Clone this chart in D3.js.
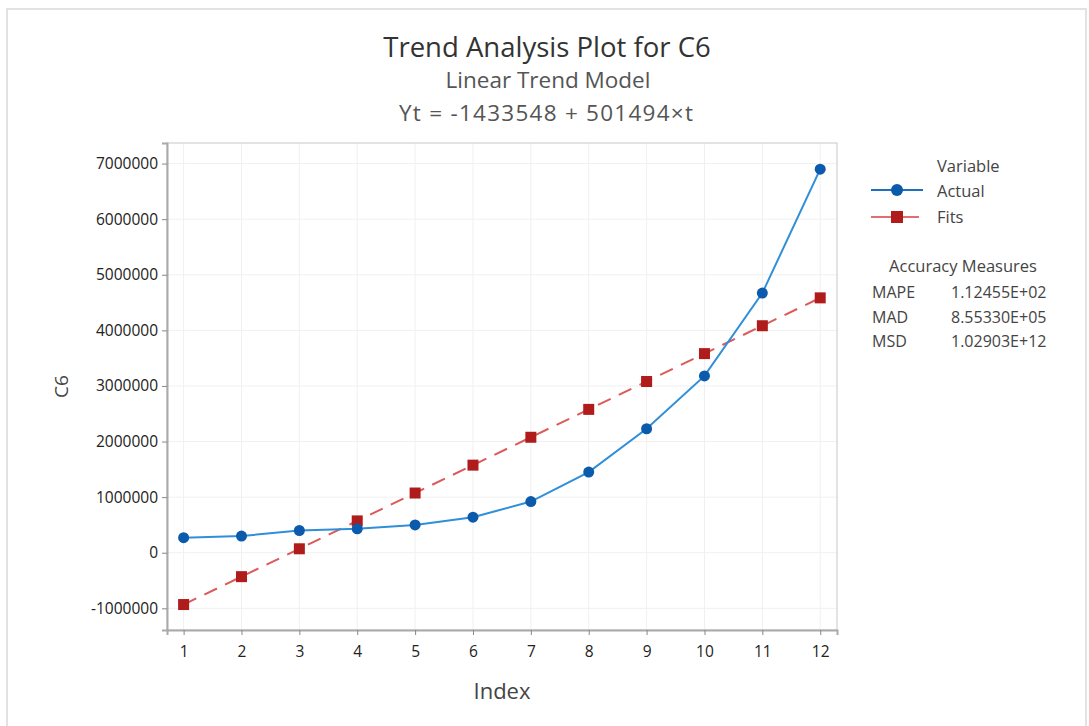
<!DOCTYPE html>
<html>
<head>
<meta charset="utf-8">
<script src="https://cdn.jsdelivr.net/npm/d3@7"></script>
<style>
  body { margin: 0; background: #fff; }
  text { font-family: "Open Sans", "Noto Sans", sans-serif; }
</style>
</head>
<body>
<div id="chart"></div>
<script>
// data
var index = [1, 2, 3, 4, 5, 6, 7, 8, 9, 10, 11, 12];
var actual = [270000, 300000, 400000, 430000, 500000, 640000, 920000, 1450000, 2230000, 3180000, 4670000, 6900000];
var fits = [-932054, -430560, 70934, 572428, 1073922, 1575416, 2076910, 2578404, 3079898, 3581392, 4082886, 4584380];
var yTicks = [-1000000, 0, 1000000, 2000000, 3000000, 4000000, 5000000, 6000000, 7000000];
var measures = [["MAPE", "1.12455E+02"], ["MAD", "8.55330E+05"], ["MSD", "1.02903E+12"]];

var W = 1089, H = 726;
var plot = {left: 167, top: 143, right: 837, bottom: 630};

var svg = d3.select("#chart").append("svg")
    .attr("width", W)
    .attr("height", H);

// outer frame of the graph window
svg.append("rect")
    .attr("x", 7).attr("y", 9)
    .attr("width", 1079).attr("height", 730)
    .attr("fill", "none")
    .attr("stroke", "#e2e2e2")
    .attr("stroke-width", 2);

//scales
var x = d3.scaleLinear()
    .domain([0.713, 12.29])
    .range([plot.left, plot.right]);

var y = d3.scaleLinear()
    .domain([-1390000, 7370000])
    .range([plot.bottom, plot.top]);

//grid
svg.append("g").selectAll("line")
    .data(index).enter().append("line")
    .attr("x1", (d) => x(d)).attr("x2", (d) => x(d))
    .attr("y1", plot.top).attr("y2", plot.bottom)
    .attr("stroke", "#f0f0f0");

svg.append("g").selectAll("line")
    .data(yTicks).enter().append("line")
    .attr("x1", plot.left).attr("x2", plot.right)
    .attr("y1", (d) => y(d)).attr("y2", (d) => y(d))
    .attr("stroke", "#f0f0f0");

//plot frame
svg.append("rect")
    .attr("x", plot.left).attr("y", plot.top)
    .attr("width", plot.right - plot.left)
    .attr("height", plot.bottom - plot.top)
    .attr("fill", "none")
    .attr("stroke", "#c8c8c8");

//axes (plain hyphen for negatives, like the original)
var plainInt = (d) => String(d);

var yAxis = svg.append("g")
    .attr("transform", "translate(" + plot.left + ",0)")
    .call(d3.axisLeft(y).tickValues(yTicks).tickFormat(plainInt).tickSize(5).tickPadding(4));

var xAxis = svg.append("g")
    .attr("transform", "translate(0," + plot.bottom + ")")
    .call(d3.axisBottom(x).tickValues(index).tickFormat(plainInt).tickSize(5).tickPadding(11));

[yAxis, xAxis].forEach((a) => {
    a.select(".domain").attr("stroke", "#aaa").attr("stroke-width", 2);
    a.selectAll(".tick line").attr("stroke", "#888");
    a.selectAll(".tick text")
        .style("font-family", "'Open Sans', 'Noto Sans', sans-serif")
        .style("font-size", "15.5px")
        .attr("fill", "#222");
});

//lines
var fitLine = d3.line().x((d, i) => x(index[i])).y((d) => y(d));

svg.append("path")
    .datum(fits)
    .attr("d", fitLine)
    .attr("fill", "none")
    .attr("stroke", "#db5a5a")
    .attr("stroke-width", 2)
    .attr("stroke-dasharray", "14,9");

svg.append("path")
    .datum(actual)
    .attr("d", fitLine)
    .attr("fill", "none")
    .attr("stroke", "#2f8fd8")
    .attr("stroke-width", 2);

//markers
svg.append("g").selectAll("rect")
    .data(fits).enter().append("rect")
    .attr("x", (d, i) => x(index[i]) - 5.5)
    .attr("y", (d) => y(d) - 5.5)
    .attr("width", 11).attr("height", 11)
    .attr("fill", "#b01c1c");

svg.append("g").selectAll("circle")
    .data(actual).enter().append("circle")
    .attr("cx", (d, i) => x(index[i]))
    .attr("cy", (d) => y(d))
    .attr("r", 5.5)
    .attr("fill", "#0b5aab");

//titles
svg.append("text")
    .attr("x", 547).attr("y", 57)
    .attr("text-anchor", "middle")
    .style("font-size", "27.5px")
    .attr("fill", "#333")
    .text("Trend Analysis Plot for C6");

svg.append("text")
    .attr("x", 548).attr("y", 88)
    .attr("text-anchor", "middle")
    .style("font-size", "22.5px")
    .attr("fill", "#555")
    .text("Linear Trend Model");

svg.append("text")
    .attr("x", 546).attr("y", 121)
    .attr("text-anchor", "middle")
    .attr("textLength", 294)
    .attr("lengthAdjust", "spacing")
    .style("font-size", "22.5px")
    .attr("fill", "#555")
    .text("Yt = -1433548 + 501494×t");

//axis titles
svg.append("text")
    .attr("transform", "translate(68," + ((plot.top + plot.bottom) / 2) + ") rotate(-90)")
    .attr("text-anchor", "middle")
    .style("font-size", "19px")
    .attr("fill", "#444")
    .text("C6");

svg.append("text")
    .attr("x", 502).attr("y", 699)
    .attr("text-anchor", "middle")
    .style("font-size", "22px")
    .attr("fill", "#444")
    .text("Index");

//legend
var legend = svg.append("g");
legend.append("text")
    .attr("x", 937).attr("y", 172)
    .style("font-size", "16.5px")
    .attr("fill", "#444")
    .text("Variable");

legend.append("line")
    .attr("x1", 871).attr("x2", 923).attr("y1", 190).attr("y2", 190)
    .attr("stroke", "#1f6fc0").attr("stroke-width", 2);
legend.append("circle")
    .attr("cx", 897).attr("cy", 190).attr("r", 6)
    .attr("fill", "#0b5aab");
legend.append("text")
    .attr("x", 937).attr("y", 197)
    .style("font-size", "16.5px")
    .attr("fill", "#444")
    .text("Actual");

legend.append("line")
    .attr("x1", 871).attr("x2", 919).attr("y1", 217).attr("y2", 217)
    .attr("stroke", "#e07070").attr("stroke-width", 2);
legend.append("rect")
    .attr("x", 891).attr("y", 211).attr("width", 12).attr("height", 12)
    .attr("fill", "#b01c1c");
legend.append("text")
    .attr("x", 937).attr("y", 223)
    .style("font-size", "16.5px")
    .attr("fill", "#444")
    .text("Fits");

//accuracy measures
legend.append("text")
    .attr("x", 963).attr("y", 272)
    .attr("text-anchor", "middle")
    .style("font-size", "16.5px")
    .attr("fill", "#444")
    .text("Accuracy Measures");

legend.selectAll(".mname")
    .data(measures).enter().append("text")
    .attr("class", "mname")
    .attr("x", 872).attr("y", (d, i) => 298 + i * 24.5)
    .style("font-size", "16px")
    .attr("fill", "#444")
    .text((d) => d[0]);

legend.selectAll(".mval")
    .data(measures).enter().append("text")
    .attr("class", "mval")
    .attr("x", 951).attr("y", (d, i) => 298 + i * 24.5)
    .style("font-size", "16px")
    .attr("fill", "#444")
    .text((d) => d[1]);
</script>
</body>
</html>
